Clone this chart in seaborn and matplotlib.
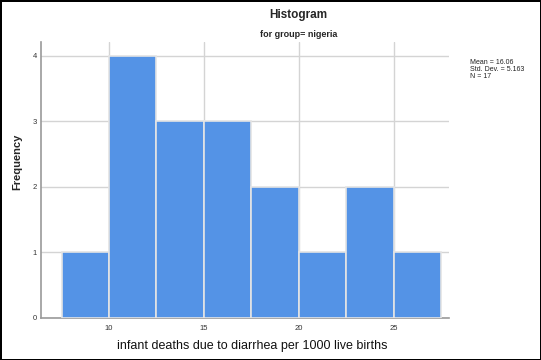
# Histogram of infant diarrhea deaths for nigeria (SPSS style)
import numpy as np
import pandas as pd
import matplotlib
matplotlib.use('Agg')
import matplotlib.pyplot as plt
import seaborn as sns

# bins and counts
bin_edges = [7.5, 10.0, 12.5, 15.0, 17.5, 20.0, 22.5, 25.0, 27.5]
counts = [1, 4, 3, 3, 2, 1, 2, 1]
x_ticks = [10, 15, 20, 25]
y_ticks = [0, 1, 2, 3, 4]

data = pd.DataFrame({
    'mid': [(a + b) / 2 for a, b in zip(bin_edges[:-1], bin_edges[1:])],
    'count': counts,
})

sns.set_style('white')
plt.rcParams['font.family'] = ['Liberation Sans', 'DejaVu Sans']

fig = plt.figure(figsize=(5.41, 3.6), dpi=100, linewidth=2, edgecolor='black')
ax = fig.add_axes([0.0758, 0.1167, 0.754, 0.766])

sns.histplot(data=data, x='mid', weights='count', bins=bin_edges, ax=ax,
             color='#5493e6', alpha=1, edgecolor='#e4e4e4', linewidth=1.2, zorder=3)

ax.set_xlim(6.42, 27.9)
ax.set_ylim(0, 4.21)
ax.set_xticks(x_ticks)
ax.set_yticks(y_ticks)
ax.grid(True, color='#d4d4d4', linewidth=1, zorder=0)
ax.set_axisbelow(True)
for s in ['top', 'right']:
    ax.spines[s].set_visible(False)
for s in ['left', 'bottom']:
    ax.spines[s].set_color('#9a9a9a')
    ax.spines[s].set_linewidth(1.2)
ax.tick_params(axis='both', labelsize=5.5, colors='#333333', length=0)
ax.tick_params(axis='x', pad=5)
ax.tick_params(axis='y', pad=3)

ax.set_xlabel('infant deaths due to diarrhea per 1000 live births', fontsize=9, color='#111111')
ax.set_ylabel('Frequency', fontsize=8, fontweight='bold')
ax.xaxis.set_label_coords(0.517, -0.101)
ax.yaxis.set_label_coords(-0.059, 0.565)
ax.xaxis.label.set_va('center')
ax.yaxis.label.set_va('center')

fig.text(0.552, 0.959, 'Histogram', ha='center', va='center', fontsize=8.5, fontweight='bold')
fig.text(0.552, 0.905, 'for group= nigeria', ha='center', va='center', fontsize=6.5, fontweight='bold')
fig.text(0.868, 0.835, 'Mean = 16.06\nStd. Dev. = 5.163\nN = 17', ha='left', va='top',
         fontsize=5.0, linespacing=0.95, color='#222222')

fig.savefig('out.png', dpi=100)
